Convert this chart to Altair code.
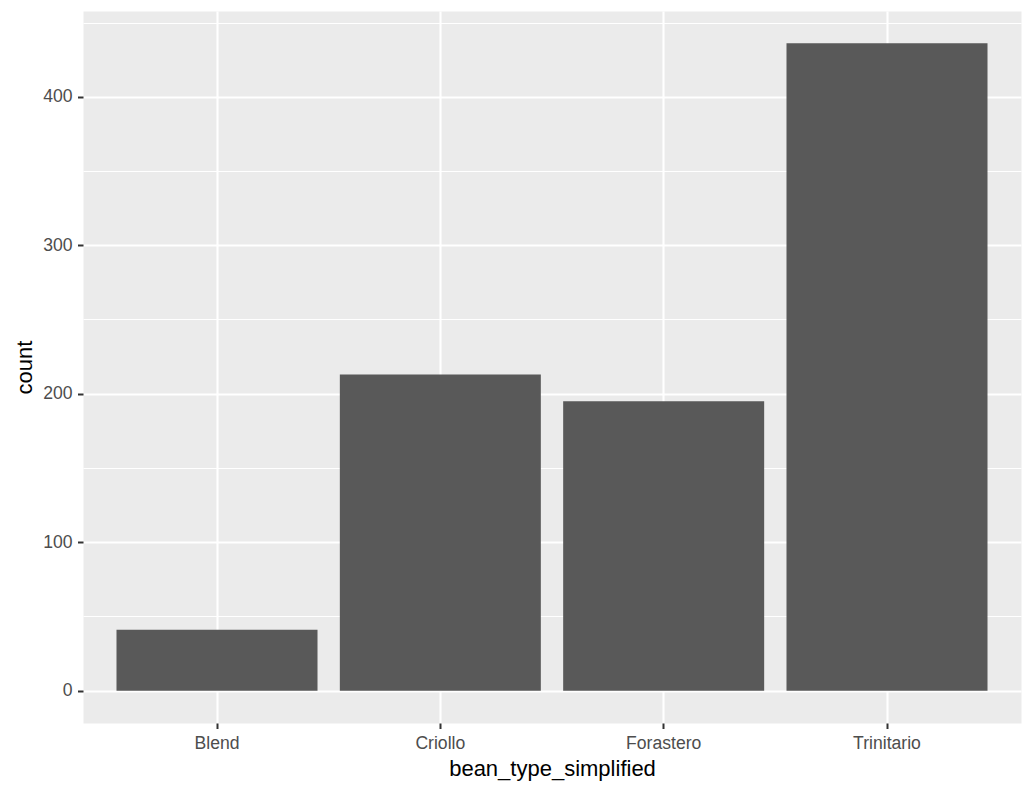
import altair as alt
import pandas as pd

categories = ["Blend", "Criollo", "Forastero", "Trinitario"]
counts = [41, 213, 195, 436]
y_grid_values = [0, 50, 100, 150, 200, 250, 300, 350, 400, 450]

df = pd.DataFrame({"bean_type_simplified": categories, "count": counts})

FONT = "Liberation Sans"
major = "datum.value % 100 === 0"

chart = alt.Chart(df).mark_bar(color="#595959").encode(
    x=alt.X(
        "bean_type_simplified:N",
        sort=categories,
        title="bean_type_simplified",
        scale=alt.Scale(paddingInner=0.1, paddingOuter=0.15),
        axis=alt.Axis(
            labelAngle=0,
            bandPosition=0.5,
            domain=False,
            grid=True,
            gridColor="white",
            gridWidth=2.1,
            tickColor="#333333",
            tickWidth=2,
            tickSize=5.5,
            labelPadding=6,
            labelFontSize=17.6,
            labelColor="#4D4D4D",
            labelFont=FONT,
            titleFont=FONT,
            titleFontSize=22,
            titleColor="black",
            titleFontWeight="normal",
            titleBaseline="alphabetic",
            titleY=52,
        ),
    ),
    y=alt.Y(
        "count:Q",
        title="count",
        scale=alt.Scale(domain=[-21.8, 457.8], nice=False, zero=False),
        axis=alt.Axis(
            values=y_grid_values,
            labelExpr=f"{major} ? datum.label : ''",
            domain=False,
            grid=True,
            gridColor="white",
            gridWidth={"condition": {"test": major, "value": 2.1}, "value": 1.1},
            tickColor="#333333",
            tickWidth=2,
            tickSize=5.5,
            tickOpacity={"condition": {"test": major, "value": 1}, "value": 0},
            labelPadding=5.5,
            labelFontSize=17.6,
            labelColor="#4D4D4D",
            labelFont=FONT,
            titleFont=FONT,
            titleFontSize=22,
            titleColor="black",
            titleFontWeight="normal",
            titleBaseline="alphabetic",
            titleX=-51.3,
        ),
    ),
).properties(
    width=938,
    height=712,
    autosize=alt.AutoSizeParams(type="none"),
    padding={"left": 75, "top": 3, "right": 4, "bottom": 60},
).configure_view(fill="#EBEBEB", strokeOpacity=0)

chart.save("out.html", embed_options={"renderer": "svg", "actions": False})
